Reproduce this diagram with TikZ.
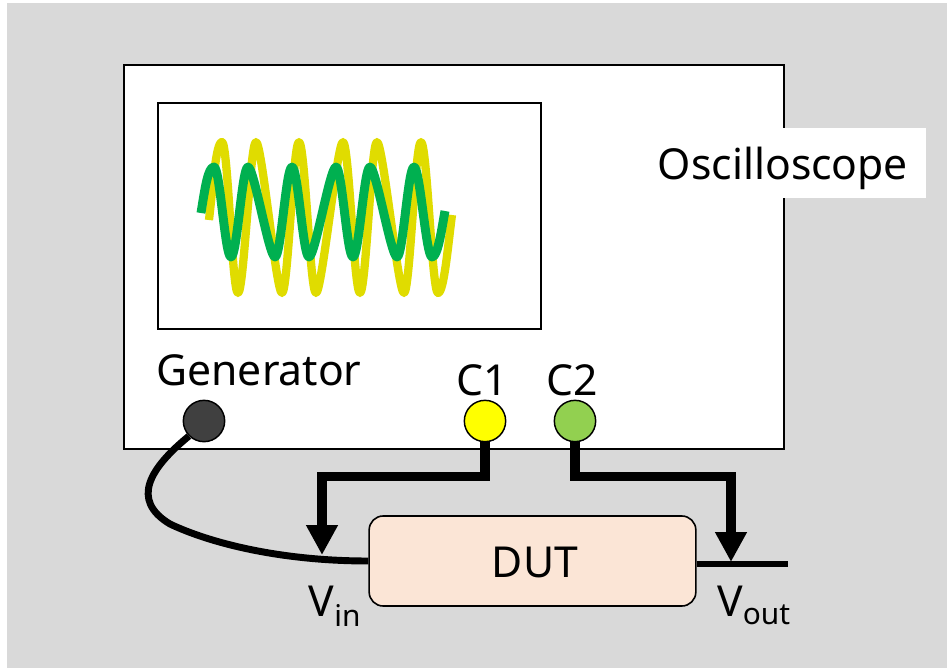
\documentclass[tikz,border=0pt]{standalone}
\usepackage{fontspec}
\setmainfont{Noto Sans}
\usepackage{xcolor}
\usetikzlibrary{arrows.meta, positioning}
\definecolor{panelgray}{HTML}{D9D9D9}
\definecolor{dutfill}{HTML}{FBE5D6}
\definecolor{traceyellow}{HTML}{E0DC00}
\definecolor{tracegreen}{HTML}{00B050}
\definecolor{portyellow}{HTML}{FFFF00}
\definecolor{portgreen}{HTML}{92D050}
\definecolor{portdark}{HTML}{404040}
\tikzset{
  %% Instrument outlines
  frame/.style={
    rectangle, draw=black, fill=white, line width=1.6pt,
    inner sep=0pt
  },
  %% Front panel connector
  port/.style={
    circle, draw=black, fill=#1, line width=1.1pt,
    minimum size=31pt, inner sep=0pt
  },
  port/.default=portyellow,
  %% Plain label
  lbl/.style={font=\fontsize{32}{36}\selectfont, inner sep=0pt, text=black},
  %% Probe lead
  probe/.style={-{Triangle[length=22.5pt,width=22.5pt]},
                draw=black, line width=7pt, line join=miter},
  %% Signal wire
  wire/.style={draw=black, line width=5.2pt},
  %% Screen trace
  trace/.style={line width=6.2pt, line join=round},
}

\begin{document}
\begin{tikzpicture}[x=0.75pt, y=-0.75pt]

  \useasboundingbox (0,0) rectangle (947,668);

  %% Background panel
  \fill[panelgray] (7,3) rectangle (947,668);

  %% Oscilloscope body and screen
  \node[frame, minimum width=495pt, minimum height=288pt] (scope) at (454,257) {};
  \node[frame, minimum width=287pt, minimum height=169.5pt] (screen) at (349.5,216) {};
  \node[fill=white, inner sep=0pt, minimum width=214.5pt, minimum height=52.5pt] (scopebox) at (783,163) {};
  \node[lbl, anchor=base] (scopelbl) at (783,179) {Oscilloscope};

  %% Yellow trace (input)
  \draw[trace, traceyellow] (209,220) .. controls +(4,-35) and +(-6,0) .. (222,142)
    \foreach \x/\y in {238/293, 256/142, 282/293, 299/142, 316/293, 343/142,
                       360/293, 377/142, 404/293, 421/142, 438/293}
      { .. controls +(6,0) and +(-6,0) .. (\x,\y) }
    .. controls +(6,0) and +(-4,30) .. (452,215);

  %% Green trace (output)
  \draw[trace, tracegreen, line width=6.7pt] (201,213) .. controls +(4,-25) and +(-6,0) .. (214,167)
    \foreach \x/\y in {231/257, 248/167, 275/257, 292/167, 309/257, 336/167,
                       353/257, 370/167, 397/257, 414/167, 432/257}
      { .. controls +(6,0) and +(-6,0) .. (\x,\y) }
    .. controls +(6,0) and +(-3,16) .. (445,211);

  %% Front panel connectors
  \node[port=portdark]   (gen)   at (204,421) {};
  \node[port=portyellow] (cone)  at (485,421) {};
  \node[port=portgreen]  (ctwo)  at (575,421) {};
  \node[lbl, anchor=base] (genlbl)  at (259,385) {Generator};
  \node[lbl, anchor=base] (conelbl) at (482.5,395) {C1};
  \node[lbl, anchor=base] (ctwolbl) at (572,395) {C2};

  %% Device under test
  \node[rectangle, rounded corners=10.5pt, draw=black, fill=dutfill, line width=1.2pt,
        minimum width=245pt, minimum height=67.5pt] (dut) at (532.5,561) {};
  \node[lbl, anchor=base] (dutlbl) at (535,577) {DUT};

  \coordinate (vin)    at (322,555);
  \coordinate (vout)   at (731,562);
  \coordinate (outend) at (788,564);

  %% Wires
  \draw[wire] (gen.225) .. controls (150,468) and (130,500) .. (170,524)
       .. controls (210,543) and (280,561) .. (dut.west);
  \draw[wire] (dut.east |- outend) -- (outend);

  %% Probes
  \draw[probe] (cone.south) -- ++(0,34) -| (vin);
  \draw[probe] (ctwo.south) -- ++(0,34) -| (vout);

  %% Terminal labels
  \node[lbl, anchor=base] (vinlbl)  at (335,616) {V\textsubscript{in}};
  \node[lbl, anchor=base] (voutlbl) at (754,616) {V\textsubscript{out}};

\end{tikzpicture}
\end{document}
